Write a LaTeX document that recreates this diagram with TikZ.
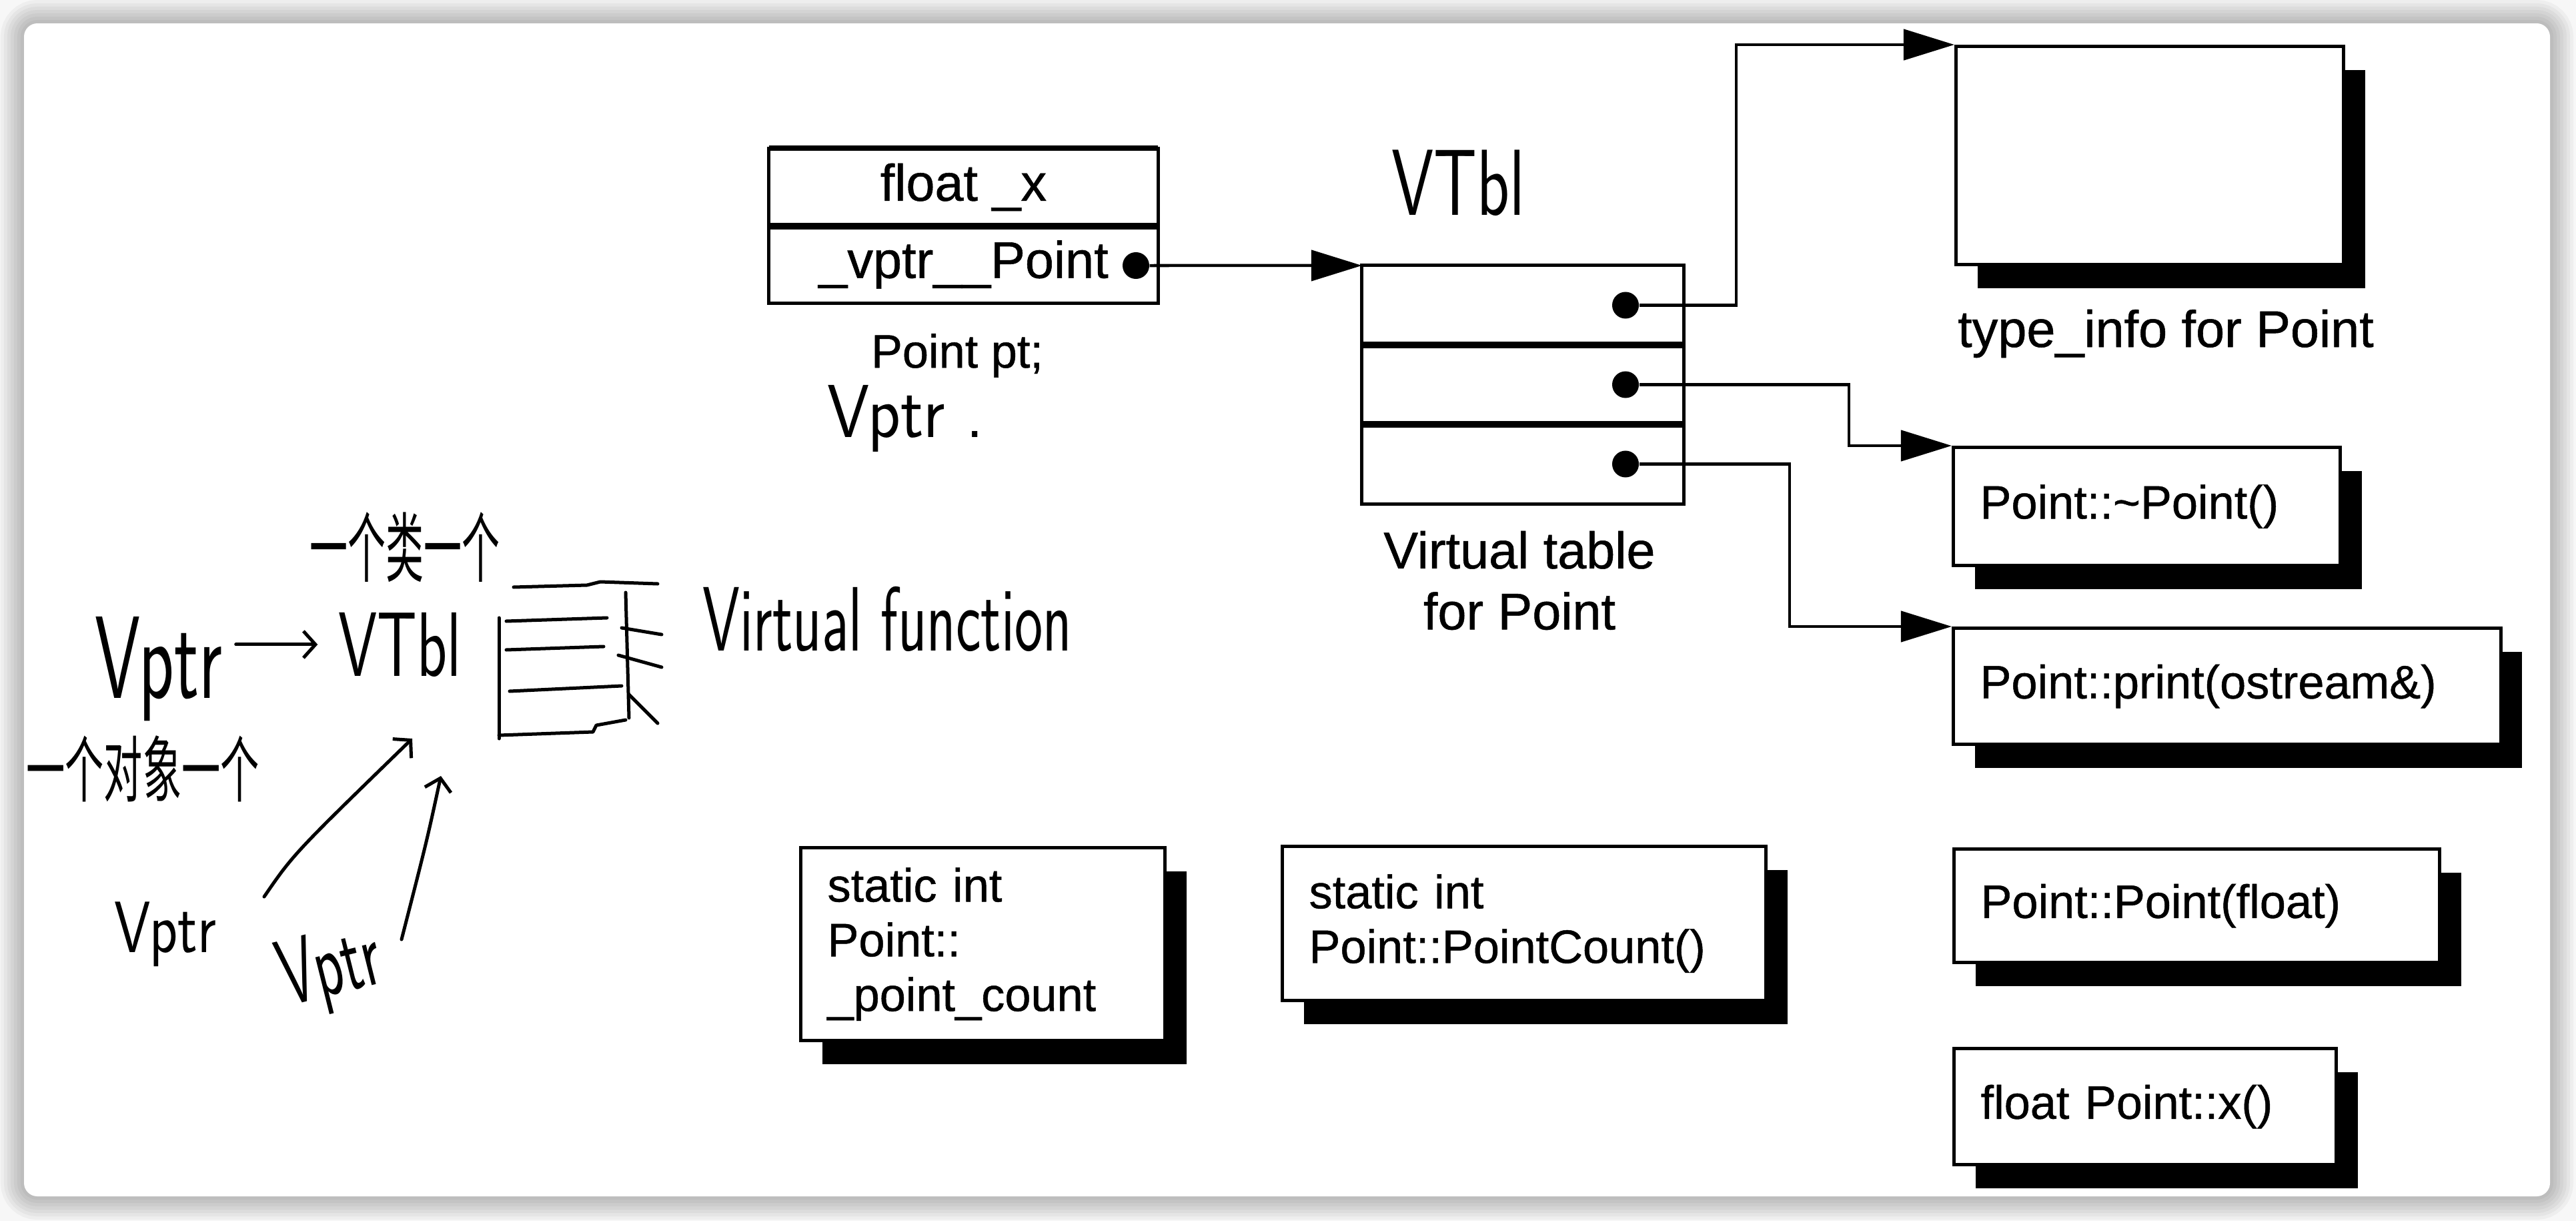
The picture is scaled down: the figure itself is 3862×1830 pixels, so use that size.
\documentclass[tikz,border=0pt]{standalone}
\usepackage{fontspec}
\setmainfont{Liberation Sans}[FakeBold=0.7]
\newfontfamily\cjk{Noto Sans CJK SC}
\usetikzlibrary{arrows.meta,shadows}
\newcommand\hwf[1]{\sffamily\fontsize{#1}{#1}\selectfont}

\begin{document}
\begin{tikzpicture}[x=0.01cm,y=-0.01cm,
		every node/.style={inner sep=0pt},
		cell/.style={draw,line width=0.05cm,outer sep=0pt,minimum width=5.83cm,minimum height=1.16cm,font=\fontsize{22}{26}\selectfont},
		vcell/.style={draw,line width=0.05cm,outer sep=0pt,minimum width=4.82cm,minimum height=1.19cm},
		dot/.style={circle,fill,minimum size=0.4cm},
		fnbox/.style={draw,fill=white,line width=0.05cm,anchor=north west,align=left,inner xsep=0.4cm,
			font=\fontsize{20}{23.3}\selectfont,
			drop shadow={shadow xshift=0.32cm,shadow yshift=-0.35cm,fill=black,opacity=1}},
		lbl/.style={font=\fontsize{22}{26}\selectfont,align=center},
		link/.style={line width=0.045cm,-{Triangle[length=0.76cm,width=0.46cm]}},
		hand/.style={line width=0.05cm,line cap=round,line join=round},
		handtip/.style={-{Straight Barb[length=0.18cm,width=0.4cm]}}]
				\useasboundingbox (0,0) rectangle (3862,1830);
				\fill[black!3] (0,0) rectangle (3862,1830);
				\foreach \w in {0.7,0.6,...,0.1}
					\draw[line width=\w cm,black,opacity=0.035,rounded corners=0.2cm] (36,35) rectangle (3823,1793);
				\fill[white,rounded corners=0.2cm] (36,35) rectangle (3823,1793);
				% object and its vptr
				\node[cell] (objx) at (1444.5,280.5) {float \_x};
				\node[cell,anchor=north] (objvp) at (objx.south) {\_vptr\_\_Point};
				\draw[line width=0.08cm] (objx.north west) -- (objx.north east);
				\draw[line width=0.1cm] (objx.south west) -- (objx.south east);
				\node[dot] (dp) at (1703,398) {};
				\node[font=\fontsize{20}{24}\selectfont,anchor=base] (ptlbl) at (1435,551) {Point pt;};
				% virtual table
				\foreach \r/\y in {1/457.5,2/576.5,3/695.5} {
					\node[vcell] (vt\r) at (2283,\y) {};
					\node[dot] (d\r) at (2437,\y) {};
				}
				\draw[line width=0.1cm] (vt1.south west) -- (vt1.south east);
				\draw[line width=0.1cm] (vt2.south west) -- (vt2.south east);
				\node[lbl] (vtlbl) at (2278,870) {Virtual table\\for Point};
				\draw[link] (dp) -- (vt1.north west);
				% functions
				\node[fnbox,minimum width=5.81cm,minimum height=3.27cm] (tinfo) at (2930,67) {};
				\node[lbl,anchor=base] (tilbl) at (3247,520) {type\_info for Point};
				\node[fnbox,text width=5.0cm,minimum height=1.77cm] (dtor) at (2926,668) {Point::\textasciitilde Point()};
				\node[fnbox,text width=7.4cm,minimum height=1.74cm] (prt) at (2926,939) {Point::print(ostream\&)};
				\node[fnbox,text width=6.48cm,minimum height=1.70cm] (ctor) at (2927,1270) {Point::Point(float)};
				\node[fnbox,text width=4.93cm,minimum height=1.74cm] (getx) at (2927,1569) {float Point::x()};
				\node[fnbox,text width=4.66cm,minimum height=2.89cm] (pcnt) at (1198,1268) {static int\\Point::\\\_point\_count};
				\node[fnbox,text width=6.45cm,minimum height=2.31cm] (pcntf) at (1920,1266) {static int\\Point::PointCount()};
				\draw[link] (d1) -- ++(166,0) |- (tinfo.north west);
				\draw[link] (d2) -- ++(335,0) |- (dtor.north west);
				\draw[link] (d3) -- ++(246,0) |- (prt.north west);
				% notes
				\node[anchor=base] (hwvtbl) at (2186,322) {\hwf{40}\scalebox{0.72}[1]{VTbl}};
				\node[anchor=base] (hwvptr) at (1358,655) {\hwf{32}\scalebox{0.9}[1]{Vptr .}};
				\node (hwcls) at (607,820) {\cjk\fontsize{18}{18}\selectfont\scalebox{0.9}[1.8]{一个类一个}};
				\node[anchor=base] (hwvp) at (238,1046) {\hwf{50}\scalebox{0.62}[1]{Vptr}};
				\node[anchor=base] (hwvt) at (599,1013) {\hwf{39}\scalebox{0.68}[1]{VTbl}};
				\node[anchor=base] (hwvf) at (1330,975) {\hwf{30}\scalebox{0.85}[1.3]{Virtual function}};
				\node (hwobj) at (214,1152) {\cjk\fontsize{18}{18}\selectfont\scalebox{0.92}[1.7]{一个对象一个}};
				\node (hwvp3) at (248,1400) {\hwf{31}\scalebox{0.8}[1]{Vptr}};
				\node (hwvp4) at (496,1456) {\hwf{40}\rotatebox{14}{\scalebox{0.62}[1]{Vptr}}};
				\draw[hand,handtip,shorten <=0.2cm,shorten >=0.3cm] (hwvt.west -| hwvp.east) -- (hwvt.west);
				\draw[hand] (770,880) -- (880,877) -- (900,872) -- (986,875);
				\draw[hand] (759,931) -- (910,926);
				\draw[hand] (759,974) -- (905,969);
				\draw[hand] (764,1036) -- (932,1028);
				\draw[hand] (748,1102) -- (889,1097) -- (894,1087) -- (938,1079);
				\draw[hand] (748,926) -- (748,1107);
				\draw[hand] (938,888) -- (943,1076);
				\draw[hand] (932,941) -- (992,951);
				\draw[hand] (927,982) -- (992,1000);
				\draw[hand] (943,1041) -- (986,1084);
				\coordinate (sa1) at (396,1344);
				\coordinate (ta1) at (618,1107);
				\coordinate (sa2) at (602,1408);
				\coordinate (ta2) at (661,1163);
				\draw[hand,handtip] (sa1) .. controls (440,1280) .. (ta1);
				\draw[hand,handtip] (sa2) .. controls (640,1260) .. (ta2);
			\end{tikzpicture}
\end{document}
